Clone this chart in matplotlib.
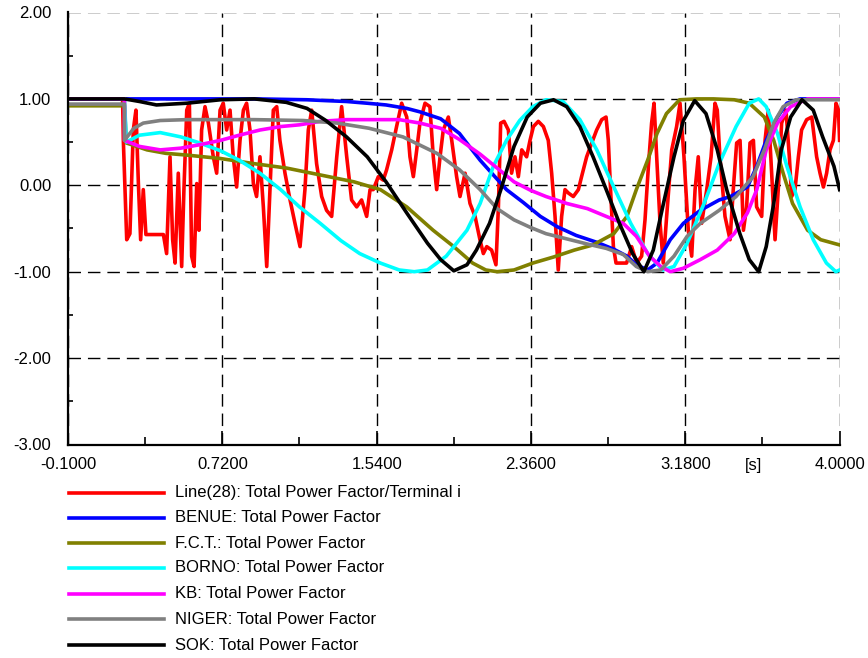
import matplotlib
matplotlib.use("Agg")
import matplotlib.pyplot as plt
from matplotlib.lines import Line2D
from matplotlib.ticker import FixedLocator, FuncFormatter

plt.rcParams['font.family'] = ['Liberation Sans', 'DejaVu Sans']

# ---------------- data (time in s, power factor) ----------------
labels = ["Line(28): Total Power Factor/Terminal i",
          "BENUE: Total Power Factor",
          "F.C.T.: Total Power Factor",
          "BORNO: Total Power Factor",
          "KB: Total Power Factor",
          "NIGER: Total Power Factor",
          "SOK: Total Power Factor"]
colors = ["#FF0000", "#0000FF", "#808000", "#00FFFF", "#FF00FF", "#808080", "#000000"]

x_ticks = [-0.1, 0.72, 1.54, 2.36, 3.18, 4.0]
y_ticks = [-3, -2, -1, 0, 1, 2]

red_points = [
    (-0.1, 1.0), (0.19, 1.0), (0.194, 0.52), (0.212, -0.63), (0.229, -0.56), (0.247, 0.64),
    (0.261, 0.87), (0.274, 0.02), (0.286, -0.63), (0.300, -0.05), (0.314, -0.57), (0.407, -0.57),
    (0.424, -0.79), (0.442, 0.33), (0.456, -0.63), (0.469, -0.90), (0.486, 0.14), (0.504, -0.94),
    (0.516, -0.05), (0.531, 0.87), (0.545, 0.95), (0.557, -0.82), (0.570, -0.94), (0.584, 0.02),
    (0.596, -0.52), (0.610, 0.64), (0.628, 0.91), (0.646, 0.72), (0.672, 0.33), (0.690, 0.14),
    (0.708, 0.87), (0.725, 0.95), (0.743, 0.64), (0.761, 0.87), (0.778, 0.33), (0.796, -0.02),
    (0.814, 0.52), (0.832, 0.87), (0.849, 0.95), (0.867, 0.64), (0.885, 0.02), (0.902, -0.13),
    (0.920, 0.33), (0.938, -0.25), (0.956, -0.94), (0.973, -0.05), (0.991, 0.87), (1.009, 0.91),
    (1.026, 0.52), (1.053, 0.14), (1.080, -0.17), (1.106, -0.44), (1.133, -0.71), (1.159, -0.05),
    (1.177, 0.64), (1.195, 0.87), (1.221, 0.25), (1.248, -0.13), (1.274, -0.29), (1.301, -0.36),
    (1.328, 0.33), (1.354, 0.91), (1.381, 0.33), (1.407, -0.17), (1.434, -0.25), (1.460, -0.17),
    (1.487, -0.36), (1.505, -0.05), (1.522, -0.05), (1.549, 0.10), (1.575, 0.06), (1.593, 0.18),
    (1.620, 0.41), (1.646, 0.68), (1.673, 0.95), (1.700, 0.79), (1.717, 0.33), (1.735, 0.10),
    (1.753, 0.41), (1.770, 0.72), (1.797, 0.95), (1.823, 0.91), (1.841, 0.33), (1.859, -0.05),
    (1.877, 0.33), (1.894, 0.64), (1.921, 0.79), (1.939, 0.52), (1.965, 0.10), (1.983, -0.13),
    (2.010, 0.14), (2.036, -0.21), (2.063, -0.36), (2.089, -0.63), (2.107, -0.79), (2.125, -0.71),
    (2.151, -0.75), (2.174, -0.92), (2.187, -0.25), (2.199, 0.72), (2.217, 0.74), (2.240, 0.64),
    (2.257, 0.14), (2.275, 0.33), (2.293, 0.10), (2.311, 0.41), (2.337, 0.33), (2.355, 0.52),
    (2.373, 0.68), (2.399, 0.74), (2.426, 0.68), (2.452, 0.52), (2.470, 0.14), (2.488, -0.36),
    (2.505, -0.98), (2.523, -0.36), (2.541, -0.05), (2.559, -0.09), (2.585, -0.13), (2.612, -0.05),
    (2.629, 0.10), (2.656, 0.33), (2.683, 0.49), (2.709, 0.64), (2.736, 0.76), (2.759, 0.79),
    (2.771, 0.52), (2.783, -0.05), (2.798, -0.71), (2.812, -0.90), (2.868, -0.90), (2.895, -0.71),
    (2.922, -0.90), (2.948, -0.82), (2.966, -0.40), (2.984, 0.22), (3.001, 0.72), (3.014, 0.95),
    (3.028, 0.33), (3.046, -0.44), (3.063, -0.90), (3.081, -0.36), (3.108, 0.41), (3.134, 0.68),
    (3.152, 0.95), (3.173, 0.33), (3.196, -0.52), (3.214, -0.82), (3.232, -0.05), (3.249, 0.33),
    (3.267, -0.44), (3.294, -0.05), (3.317, 0.33), (3.338, 0.95), (3.350, 0.87), (3.364, 0.33),
    (3.391, -0.36), (3.418, -0.63), (3.435, -0.05), (3.453, 0.49), (3.471, 0.52), (3.489, -0.52),
    (3.506, -0.25), (3.524, 0.49), (3.542, 0.52), (3.559, -0.25), (3.586, -0.36), (3.604, 0.52),
    (3.621, 0.87), (3.639, 0.14), (3.657, -0.63), (3.674, -0.05), (3.692, 0.72), (3.715, 0.87),
    (3.733, 0.33), (3.745, -0.13), (3.763, -0.05), (3.781, 0.33), (3.798, 0.64), (3.825, 0.76),
    (3.852, 0.79), (3.878, 0.33), (3.896, 0.14), (3.914, -0.02), (3.931, 0.14), (3.949, 0.41),
    (3.967, 0.52), (3.981, 0.95), (3.994, 0.87), (4.0, 0.52)]

benue_t = [-0.1, 0.2, 0.5, 0.9, 1.17, 1.27, 1.38, 1.49, 1.59, 1.70,
           1.77, 1.88, 1.98, 2.04, 2.09, 2.16, 2.23, 2.32, 2.41, 2.50,
           2.60, 2.71, 2.80, 2.87, 2.92, 2.98, 3.03, 3.10, 3.17, 3.26,
           3.36, 3.42, 3.51, 3.56, 3.61, 3.67, 3.72, 3.79, 4.0]
benue_v = [1.0, 1.0, 1.0, 1.0, 0.99, 0.98, 0.97, 0.95, 0.93, 0.89,
           0.85, 0.77, 0.60, 0.43, 0.29, 0.12, -0.05, -0.20, -0.36, -0.48,
           -0.58, -0.66, -0.74, -0.82, -0.92, -0.98, -0.90, -0.63, -0.44, -0.29,
           -0.17, -0.13, -0.02, 0.22, 0.52, 0.79, 0.95, 1.0, 1.0]

fct_t = [-0.1, 0.2, 0.21, 0.32, 0.42, 0.53, 0.71, 0.89, 1.06, 1.24,
         1.42, 1.56, 1.70, 1.84, 1.95, 2.05, 2.12, 2.18, 2.27, 2.37,
         2.48, 2.59, 2.69, 2.80, 2.87, 2.92, 2.98, 3.03, 3.08, 3.15,
         3.24, 3.33, 3.44, 3.52, 3.60, 3.65, 3.70, 3.75, 3.83, 3.90, 4.0]
fct_v = [0.92, 0.92, 0.49, 0.41, 0.37, 0.35, 0.31, 0.25, 0.20, 0.12,
         0.04, -0.05, -0.25, -0.52, -0.71, -0.90, -0.98, -1.0, -0.98, -0.90,
         -0.83, -0.75, -0.69, -0.56, -0.36, -0.05, 0.29, 0.60, 0.83, 0.99,
         1.0, 1.0, 0.99, 0.95, 0.79, 0.52, 0.14, -0.21, -0.52, -0.63, -0.69]

borno_t = [-0.1, 0.2, 0.21, 0.28, 0.39, 0.50, 0.60, 0.71, 0.81, 0.92,
           1.03, 1.13, 1.24, 1.35, 1.45, 1.56, 1.66, 1.74, 1.81, 1.91,
           2.02, 2.09, 2.16, 2.23, 2.30, 2.37, 2.44, 2.53, 2.62, 2.71,
           2.80, 2.89, 2.98, 3.06, 3.12, 3.19, 3.28, 3.36, 3.45, 3.52,
           3.57, 3.61, 3.67, 3.72, 3.79, 3.86, 3.93, 3.98, 4.0]
borno_v = [1.0, 1.0, 0.50, 0.58, 0.61, 0.56, 0.49, 0.40, 0.29, 0.14,
           -0.05, -0.25, -0.44, -0.64, -0.79, -0.90, -0.98, -1.0, -0.98, -0.82,
           -0.52, -0.21, 0.22, 0.52, 0.75, 0.91, 0.99, 0.97, 0.76, 0.41,
           -0.02, -0.44, -0.79, -0.98, -0.94, -0.67, -0.21, 0.25, 0.68, 0.95,
           1.0, 0.91, 0.60, 0.22, -0.25, -0.63, -0.90, -1.0, -0.98]

kb_t = [-0.1, 0.2, 0.2, 0.28, 0.39, 0.50, 0.60, 0.71, 0.81, 0.92,
        1.03, 1.13, 1.24, 1.38, 1.52, 1.66, 1.77, 1.88, 1.98, 2.09,
        2.18, 2.27, 2.36, 2.44, 2.55, 2.66, 2.76, 2.85, 2.92, 2.99,
        3.05, 3.10, 3.17, 3.26, 3.35, 3.44, 3.51, 3.56, 3.61, 3.67,
        3.74, 3.83, 4.0]
kb_v = [1.0, 1.0, 0.52, 0.45, 0.41, 0.43, 0.47, 0.52, 0.58, 0.64,
        0.68, 0.70, 0.74, 0.76, 0.76, 0.76, 0.72, 0.66, 0.53, 0.36,
        0.20, 0.04, -0.06, -0.13, -0.21, -0.27, -0.36, -0.44, -0.59, -0.82,
        -0.94, -1.0, -0.96, -0.86, -0.75, -0.56, -0.32, -0.05, 0.41, 0.72,
        0.91, 1.0, 1.0]

niger_t = [-0.1, 0.2, 0.2, 0.25, 0.30, 0.39, 0.53, 0.89, 1.15, 1.33,
           1.50, 1.68, 1.86, 1.98, 2.09, 2.18, 2.27, 2.36, 2.44, 2.55,
           2.66, 2.76, 2.85, 2.92, 2.98, 3.05, 3.12, 3.19, 3.26, 3.36,
           3.45, 3.54, 3.60, 3.65, 3.70, 3.77, 4.0]
niger_v = [0.94, 0.94, 0.52, 0.66, 0.72, 0.75, 0.76, 0.76, 0.75, 0.72,
           0.66, 0.56, 0.37, 0.18, -0.05, -0.27, -0.40, -0.49, -0.56, -0.62,
           -0.68, -0.73, -0.80, -0.94, -1.0, -0.98, -0.82, -0.59, -0.44, -0.29,
           -0.13, 0.10, 0.41, 0.72, 0.91, 0.99, 0.99]

sok_t = [-0.1, 0.2, 0.28, 0.37, 0.45, 0.53, 0.71, 0.89, 1.06, 1.17,
         1.27, 1.38, 1.49, 1.59, 1.70, 1.81, 1.88, 1.95, 2.02, 2.07,
         2.14, 2.20, 2.27, 2.34, 2.41, 2.48, 2.55, 2.62, 2.69, 2.76,
         2.83, 2.90, 2.96, 3.01, 3.06, 3.12, 3.17, 3.23, 3.29, 3.35,
         3.40, 3.47, 3.52, 3.57, 3.61, 3.65, 3.69, 3.74, 3.80, 3.86,
         3.91, 3.97, 4.0]
sok_v = [1.0, 1.0, 0.97, 0.93, 0.94, 0.95, 0.99, 1.0, 0.96, 0.89,
         0.75, 0.56, 0.33, 0.04, -0.32, -0.67, -0.86, -0.99, -0.92, -0.75,
         -0.44, -0.05, 0.45, 0.79, 0.95, 0.99, 0.91, 0.68, 0.33, -0.05,
         -0.44, -0.79, -1.0, -0.75, -0.25, 0.33, 0.75, 0.98, 0.83, 0.41,
         -0.05, -0.56, -0.86, -1.0, -0.71, -0.21, 0.41, 0.79, 0.99, 0.87,
         0.56, 0.22, -0.05]

red_t = [p[0] for p in red_points]
red_v = [p[1] for p in red_points]
series = [(red_t, red_v), (benue_t, benue_v), (fct_t, fct_v), (borno_t, borno_v),
          (kb_t, kb_v), (niger_t, niger_v), (sok_t, sok_v)]

# ---------------- figure ----------------
W, H = 868, 658
fig = plt.figure(figsize=(W / 100, H / 100), dpi=100)
ax = fig.add_axes([68 / W, 1 - 444.5 / H, (839.6 - 68) / W, (444.5 - 12.5) / H])

for i, ((t, v), c) in enumerate(zip(series, colors)):
    ax.plot(t, v, color=c, lw=2.6, zorder=3 + i, solid_joinstyle='round')

ax.set_xlim(-0.1, 4.0)
ax.set_ylim(-3, 2)
ax.xaxis.set_major_locator(FixedLocator(x_ticks))
ax.xaxis.set_minor_locator(FixedLocator([(a + b) / 2 for a, b in zip(x_ticks[:-1], x_ticks[1:])]))
ax.yaxis.set_major_locator(FixedLocator(y_ticks))
ax.yaxis.set_minor_locator(FixedLocator([a + 0.5 for a in y_ticks[:-1]]))
ax.xaxis.set_major_formatter(FuncFormatter(lambda v, p: f"{v:.4f}"))
ax.yaxis.set_major_formatter(FuncFormatter(lambda v, p: f"{v:.2f}"))

ax.set_axisbelow(True)
ax.grid(True, which='major', color='black', linestyle=(0, (9, 5)), lw=1.0)
for s in ['top', 'right']:
    ax.spines[s].set_visible(False)
for s in ['left', 'bottom']:
    ax.spines[s].set_linewidth(1.6)
    ax.spines[s].set_zorder(20)

ax.tick_params(axis='x', which='major', direction='in', length=10, width=1.2, pad=9, labelsize=12)
ax.tick_params(axis='x', which='minor', direction='in', length=6, width=1.2)
ax.tick_params(axis='y', which='major', direction='in', length=0, pad=12, labelsize=12)
ax.tick_params(axis='y', which='minor', direction='in', length=3.5, width=1.2)

ax.annotate("[s]", xy=(3.54, 0), xycoords=('data', 'axes fraction'),
            xytext=(0, -10), textcoords='offset points', ha='center', va='top', fontsize=12)

# legend below the plot
row_y = [493, 518, 543, 568, 594, 619, 645]
for lab, c, ry in zip(labels, colors, row_y):
    fig.add_artist(Line2D([69 / W, 164 / W], [1 - ry / H, 1 - ry / H], color=c, lw=2.6,
                          transform=fig.transFigure))
    fig.text(175 / W, 1 - ry / H, lab, va='center', ha='left', fontsize=12)

fig.savefig("out.png", dpi=100)
